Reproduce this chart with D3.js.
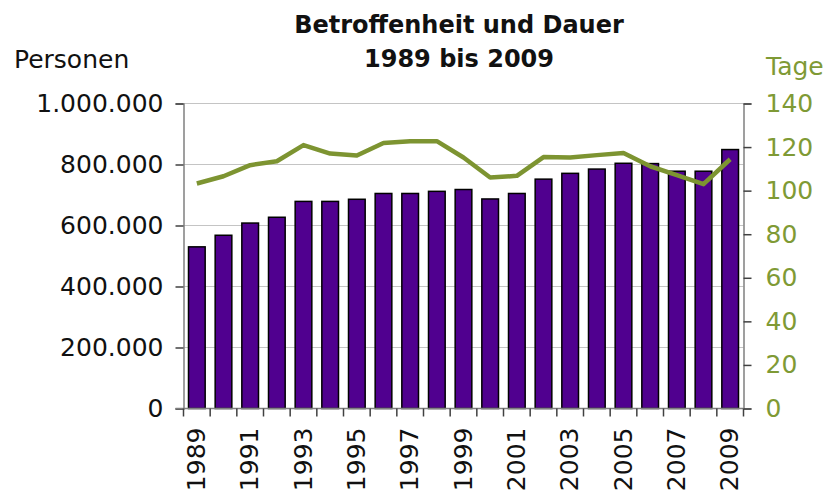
<!DOCTYPE html>
<html>
<head>
<meta charset="utf-8">
<script src="https://cdn.jsdelivr.net/npm/d3@7"></script>
<style>
  body { margin: 0; background: #fff; }
  svg { display: block; font-family: "DejaVu Sans", Verdana, sans-serif; }
</style>
</head>
<body>
<svg width="831" height="490"><g></g></svg>
<script>
// data
const years = ['1989','1990','1991','1992','1993','1994','1995','1996','1997','1998','1999',
  '2000','2001','2002','2003','2004','2005','2006','2007','2008','2009']
const personen = [530000, 568000, 608000, 627000, 679000, 679000, 686000, 705000, 705000, 712000, 718000,
  687000, 705000, 752000, 771000, 785000, 804000, 803000, 778000, 778000, 849000]
const tage = [103.3, 106.6, 111.7, 113.5, 120.9, 117.0, 116.1, 121.9, 122.7, 122.7, 115.2,
  106.0, 106.8, 115.4, 115.2, 116.3, 117.3, 111.2, 107.1, 103.0, 114.4]
const leftTicks = [0, 200000, 400000, 600000, 800000, 1000000]
const rightTicks = [0, 20, 40, 60, 80, 100, 120, 140]

const Width = 831
const Height = 490
const plotLeft = 183.5, plotRight = 743.5, plotTop = 103.5, plotBottom = 408.5
const green = '#7f9a35'
const svg = d3.select('svg').attr('width', Width).attr('height', Height)
const g = svg.select('g')

const de = d3.formatLocale({decimal: ',', thousands: '.', grouping: [3], currency: ['', ' €']})

// scales
const x = d3.scaleBand().domain(years).range([plotLeft, plotRight]).paddingInner(0.375).paddingOuter(0.1875)
const y = d3.scaleLinear().domain([0, 1000000]).range([plotBottom, plotTop])
const y2 = d3.scaleLinear().domain([0, 140]).range([plotBottom, plotTop])
const step = x.step()

// gridlines
g.append('g').selectAll('line').data(leftTicks.slice(1)).enter().append('line')
  .attr('x1', plotLeft).attr('x2', plotRight)
  .attr('y1', d => y(d)).attr('y2', d => y(d))
  .attr('stroke', '#c4c4c4').attr('stroke-width', 1)

// bars
g.append('g').selectAll('rect').data(personen).enter().append('rect')
  .attr('x', (d, i) => x(years[i]))
  .attr('y', d => y(d))
  .attr('width', x.bandwidth())
  .attr('height', d => plotBottom - y(d))
  .attr('fill', '#50008f')
  .attr('stroke', '#000').attr('stroke-width', 1.5)

// line for Tage
const line = d3.line()
  .x((d, i) => x(years[i]) + x.bandwidth() / 2)
  .y(d => y2(d))
g.append('path').datum(tage)
  .attr('d', line)
  .attr('fill', 'none')
  .attr('stroke', '#7d9431').attr('stroke-width', 4.5)
  .attr('stroke-linejoin', 'round')

// left axis
const yAxis = g.append('g').attr('transform', `translate(${plotLeft},0)`)
  .call(d3.axisLeft(y).tickValues(leftTicks).tickFormat(de.format(',')).tickSize(8).tickPadding(12))
yAxis.select('.domain').attr('stroke', '#808080').attr('stroke-width', 1.5)
yAxis.selectAll('.tick line').attr('stroke', '#404040').attr('stroke-width', 1.5)
yAxis.selectAll('text').attr('font-size', 25).attr('fill', '#111').style('font-family', '"DejaVu Sans", Verdana, sans-serif')

// right axis
const y2Axis = g.append('g').attr('transform', `translate(${plotRight},0)`)
  .call(d3.axisRight(y2).tickValues(rightTicks).tickSize(8).tickPadding(14))
y2Axis.select('.domain').attr('stroke', '#808080').attr('stroke-width', 1.5)
y2Axis.selectAll('.tick line').attr('stroke', '#404040').attr('stroke-width', 1.5)
y2Axis.selectAll('text').attr('font-size', 25).attr('fill', green).style('font-family', '"DejaVu Sans", Verdana, sans-serif')

// bottom axis: ticks at category borders
g.append('line').attr('x1', plotLeft - 8).attr('x2', plotRight)
  .attr('y1', plotBottom).attr('y2', plotBottom)
  .attr('stroke', '#808080').attr('stroke-width', 1.5)
g.append('g').selectAll('line').data(d3.range(years.length + 1)).enter().append('line')
  .attr('x1', d => plotLeft + d * step).attr('x2', d => plotLeft + d * step)
  .attr('y1', plotBottom).attr('y2', plotBottom + 8)
  .attr('stroke', '#404040').attr('stroke-width', 1.5)

// year labels, every second one
g.append('g').selectAll('text').data(years.filter((d, i) => i % 2 === 0)).enter().append('text')
  .attr('transform', d => `translate(${x(d) + x.bandwidth() / 2 + 8},${plotBottom + 19}) rotate(-90)`)
  .attr('text-anchor', 'end')
  .attr('font-size', 25).attr('fill', '#111')
  .text(d => d)

// titles
svg.append('text').attr('x', 459).attr('y', 33).attr('text-anchor', 'middle')
  .attr('font-size', 24).attr('font-weight', 'bold').attr('fill', '#111')
  .text('Betroffenheit und Dauer')
svg.append('text').attr('x', 459).attr('y', 67).attr('text-anchor', 'middle')
  .attr('font-size', 24).attr('font-weight', 'bold').attr('fill', '#111')
  .text('1989 bis 2009')
svg.append('text').attr('x', 14).attr('y', 68).attr('font-size', 25).attr('fill', '#111')
  .text('Personen')
svg.append('text').attr('x', 766).attr('y', 75).attr('font-size', 25).attr('fill', green)
  .text('Tage')
</script>
</body>
</html>
